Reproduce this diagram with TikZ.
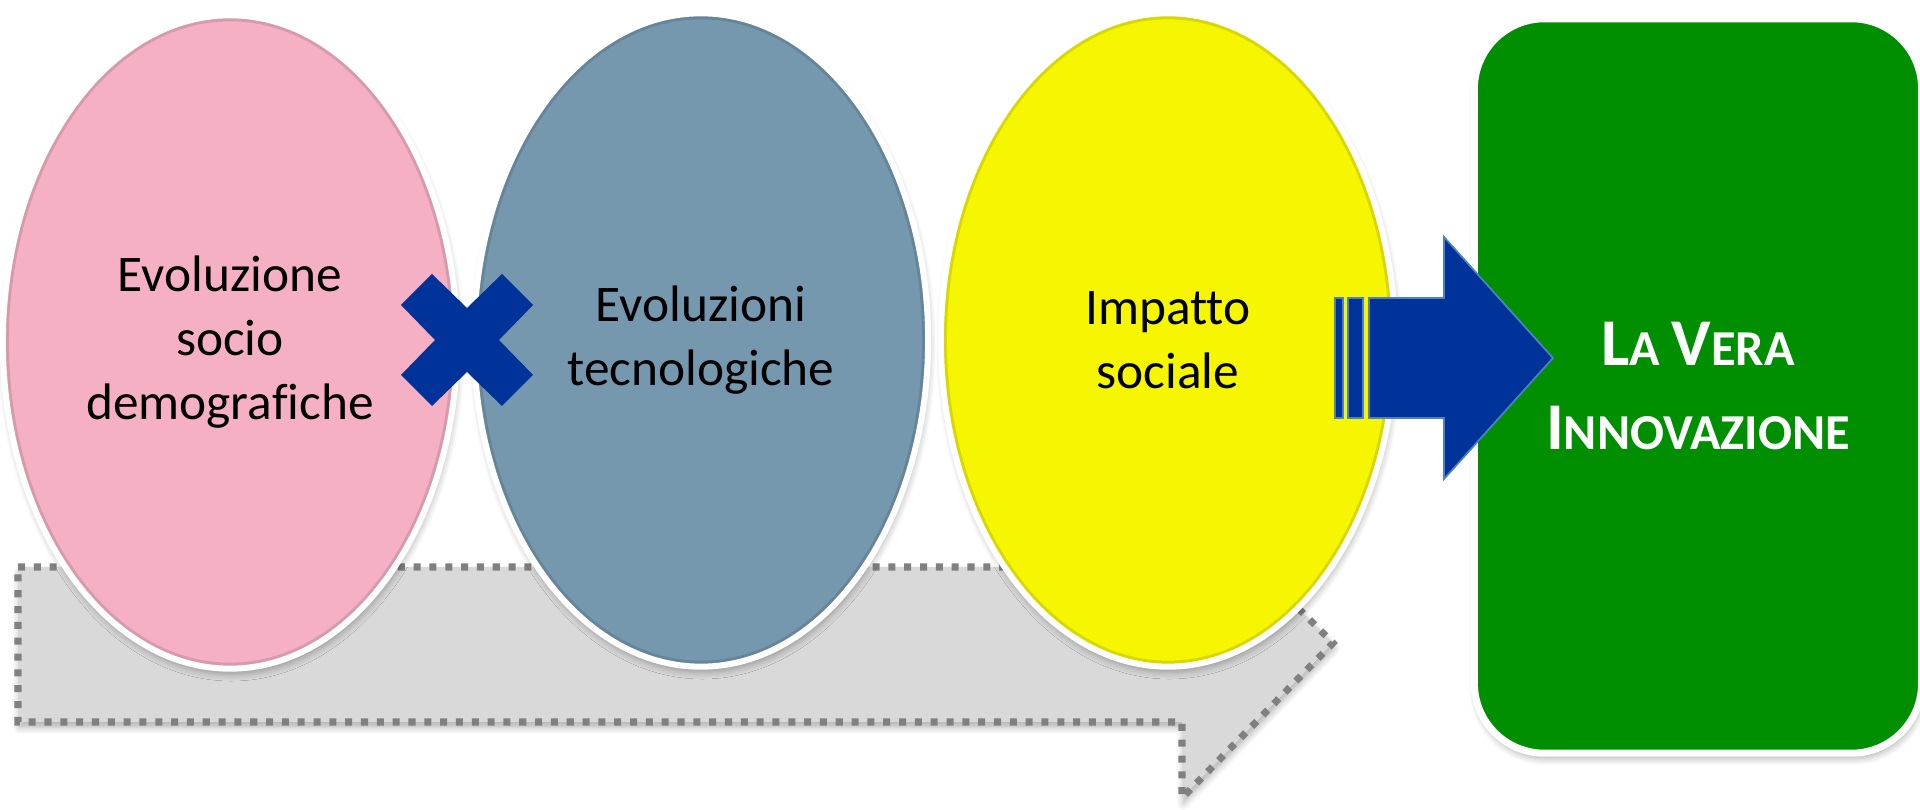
\documentclass[tikz,border=0pt]{standalone}
\usepackage{fontspec}
\setmainfont[Ligatures=NoCommon]{Carlito}
\usetikzlibrary{shapes.geometric,shadows.blur}

\definecolor{rosa}{RGB}{245,176,196}
\definecolor{grigioblu}{RGB}{117,152,175}
\definecolor{giallo}{RGB}{246,246,0}
\definecolor{verde}{RGB}{0,143,0}
\definecolor{blu}{RGB}{0,51,153}
\definecolor{bordoblu}{RGB}{79,129,189}
\definecolor{tratteggio}{RGB}{128,128,128}
\definecolor{sfondofreccia}{RGB}{217,217,217}

\newcommand{\capgrande}[1]{{\fontsize{19}{23}\selectfont #1}}

\begin{document}
\begin{tikzpicture}[x=0.01cm,y=-0.01cm,
    ombra/.style={blur shadow={shadow xshift=0.4pt,shadow yshift=-1.6pt,shadow opacity=30,shadow blur steps=6}},
    bolla/.style={ellipse,inner sep=0pt,minimum width=4.54cm,minimum height=6.53cm,
      draw=white,line width=0.6mm,ombra,align=center,
      font=\fontsize{14.6}{18.3}\selectfont,
      path picture={\draw[black,opacity=0.12,line width=1.2mm]
        (path picture bounding box.center) ellipse [x radius=2.27cm,y radius=3.265cm];}},
    pezzoblu/.style={fill=blu,draw=bordoblu,line width=0.5pt}]
  \useasboundingbox (0,0) rectangle (1920,810);

  % freccia grigia tratteggiata sul fondo
  \filldraw[fill=sfondofreccia,draw=tratteggio,line width=2pt,dash pattern=on 2pt off 2.5pt,ombra]
    (18,567) -- (1257,567) -- (1333,643) -- (1182,798) -- (1182,722) -- (18,722) -- cycle;

  \node[bolla,fill=rosa]      (socio)   at (230,342)  {Evoluzione\\socio\\demografiche};
  \node[bolla,fill=grigioblu] (tecno)   at (701,340)  {Evoluzioni\\tecnologiche};
  \node[bolla,fill=giallo]    (impatto) at (1168,340) {Impatto\\sociale};

  \node[rectangle,rounded corners=0.7cm,inner sep=0pt,minimum width=4.47cm,minimum height=7.34cm,
        fill=verde,draw=white,line width=0.7mm,ombra,align=center,text=white,
        font=\fontsize{14.3}{23}\selectfont\bfseries]
    (innov) at (1698,386) {\capgrande{L}A \capgrande{V}ERA\\[1pt]\capgrande{I}NNOVAZIONE};

  % segno per
  \coordinate (per) at (467,340);
  \fill[blu,shift={(per)}] (-66,-35) -- (-35,-66) -- (0,-32) -- (35,-66) -- (66,-35) -- (32,0)
    -- (66,35) -- (35,66) -- (0,32) -- (-35,66) -- (-66,35) -- (-32,0) -- cycle;

  % freccia blu verso l'innovazione
  \filldraw[pezzoblu] (1335,298) rectangle (1343,418);
  \filldraw[pezzoblu] (1348,298) rectangle (1363,418);
  \filldraw[pezzoblu] (1369,298) -- (1444,298) -- (1444,237) -- (1553,358)
    -- (1444,479) -- (1444,418) -- (1369,418) -- cycle;
\end{tikzpicture}
\end{document}
